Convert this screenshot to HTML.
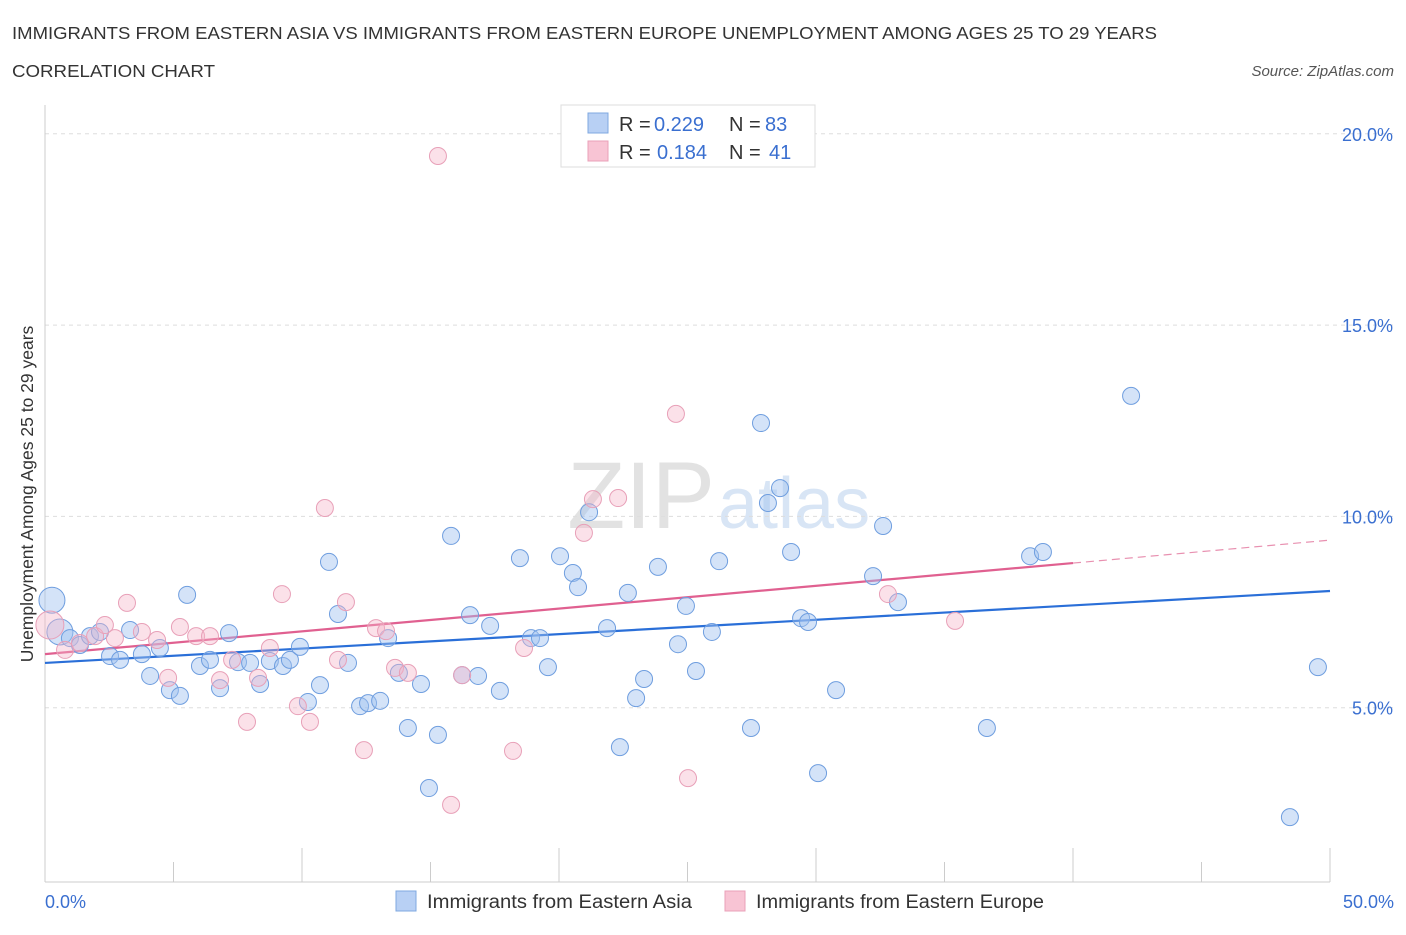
<!DOCTYPE html>
<html><head><meta charset="utf-8"><style>
body{margin:0;background:#fff;font-family:"Liberation Sans",sans-serif;}
svg text{font-family:"Liberation Sans",sans-serif;}
</style></head><body>
<svg id="chart" width="1406" height="930" xmlns="http://www.w3.org/2000/svg">
<text x="12" y="39" font-size="17.5" fill="#333" textLength="1145" lengthAdjust="spacingAndGlyphs">IMMIGRANTS FROM EASTERN ASIA VS IMMIGRANTS FROM EASTERN EUROPE UNEMPLOYMENT AMONG AGES 25 TO 29 YEARS</text>
<text x="12" y="77" font-size="17.5" fill="#333" textLength="203" lengthAdjust="spacingAndGlyphs">CORRELATION CHART</text>
<text x="1394" y="76" font-size="15" fill="#555" font-style="italic" text-anchor="end">Source: ZipAtlas.com</text>
<text x="715" y="528" font-size="95" fill="#e2e2e2" font-family="Liberation Serif" text-anchor="end">ZIP</text>
<text x="718" y="528" font-size="72" fill="#d8e5f5">atlas</text>
<g id="grid"></g>
<g id="axes"></g>
<g id="trend"></g>
<g id="points"></g>
<text transform="translate(33,494) rotate(-90)" font-size="17.5" fill="#333" text-anchor="middle">Unemployment Among Ages 25 to 29 years</text>
<g>
<rect x="561" y="105" width="254" height="62" fill="#fff" stroke="#ddd"/>
<rect x="588" y="113" width="20" height="20" fill="#b8d0f4" stroke="#7fa8e0"/>
<rect x="588" y="141" width="20" height="20" fill="#f8c4d4" stroke="#eaa0b8"/>
<text x="619" y="131" font-size="20" fill="#333">R =</text>
<text x="654" y="131" font-size="20" fill="#3a6fd0">0.229</text>
<text x="729" y="131" font-size="20" fill="#333">N =</text>
<text x="765" y="131" font-size="20" fill="#3a6fd0">83</text>
<text x="619" y="159" font-size="20" fill="#333">R =</text>
<text x="657" y="159" font-size="20" fill="#3a6fd0">0.184</text>
<text x="729" y="159" font-size="20" fill="#333">N =</text>
<text x="769" y="159" font-size="20" fill="#3a6fd0">41</text>
</g>
<g>
<rect x="396" y="891" width="20" height="20" fill="#b8d0f4" stroke="#7fa8e0"/>
<text x="427" y="908" font-size="19" fill="#333" textLength="265" lengthAdjust="spacingAndGlyphs">Immigrants from Eastern Asia</text>
<rect x="725" y="891" width="20" height="20" fill="#f8c4d4" stroke="#eaa0b8"/>
<text x="756" y="908" font-size="19" fill="#333" textLength="288" lengthAdjust="spacingAndGlyphs">Immigrants from Eastern Europe</text>
</g>
</svg>
<script>
const blueX=[0.27,0.58,0.97,1.36,1.75,2.14,2.53,2.92,3.31,3.77,4.09,4.47,4.86,5.25,5.53,6.03,6.42,7.16,6.81,7.51,7.98,8.37,8.75,9.26,9.53,9.92,10.23,10.70,11.05,11.40,11.79,12.26,12.57,13.04,13.35,13.77,14.12,14.63,14.94,15.29,15.80,16.23,16.54,16.85,17.32,17.70,18.48,18.91,19.26,19.57,20.04,20.54,20.74,21.17,21.87,22.37,22.68,23.00,23.31,23.85,24.63,24.94,25.33,25.95,26.23,27.47,27.86,28.13,28.60,29.03,29.42,29.69,30.08,30.78,32.22,32.61,33.19,36.65,38.33,38.83,42.26,48.44,49.53];
const blueY=[7.81,6.98,6.82,6.64,6.87,6.98,6.35,6.25,7.03,6.40,5.83,6.56,5.46,5.31,7.95,6.09,6.25,6.95,5.51,6.19,6.17,5.62,6.22,6.09,6.25,6.59,5.15,5.59,8.81,7.45,6.17,5.04,5.12,5.18,6.82,5.91,4.47,5.62,2.90,4.29,9.49,5.85,7.42,5.83,7.14,5.44,8.91,6.82,6.82,6.06,8.96,8.52,8.15,10.11,7.08,3.97,8.00,5.25,5.75,8.68,6.66,7.66,5.96,6.98,8.83,4.47,12.44,10.35,10.74,9.07,7.34,7.24,3.29,5.46,8.44,9.75,7.76,4.47,8.96,9.07,13.15,2.14,6.06];
const pinkX=[0.19,0.78,1.36,1.95,2.33,2.72,3.19,3.77,4.36,4.79,5.25,5.88,6.42,6.81,7.28,7.86,8.29,8.75,9.22,9.84,10.31,10.89,11.40,11.71,12.41,12.88,13.27,13.62,14.12,15.29,15.80,16.23,18.21,18.64,20.97,21.32,22.30,24.55,25.02,32.80,35.41];
const pinkY=[7.16,6.51,6.69,6.87,7.16,6.82,7.74,6.98,6.77,5.78,7.11,6.87,6.87,5.72,6.25,4.63,5.78,6.56,7.97,5.04,4.63,10.22,6.25,7.76,3.89,7.08,7.00,6.04,5.91,19.42,2.46,5.85,3.87,6.56,9.57,10.45,10.48,12.68,3.16,7.97,7.27];
const blueTrend=[6.17,8.05];
const pinkTrend=[6.40,8.78,9.38];
const yTicks=[5,10,15,20];
const xTickLabels=["0.0%","50.0%"];
const NS="http://www.w3.org/2000/svg";
const sx=v=>45+v*25.7, sy=v=>899-v*38.26;
function mk(parent,tag,attrs){const e=document.createElementNS(NS,tag);for(const k in attrs)e.setAttribute(k,attrs[k]);document.getElementById(parent).appendChild(e);return e;}
yTicks.forEach(t=>{
 const l=mk('grid','line',{x1:45,x2:1395,y1:sy(t),y2:sy(t),stroke:'#ddd','stroke-dasharray':'4,4'});
 
 
 const tx=mk('grid','text',{x:1393,y:sy(t)+7,'font-size':18,fill:'#3a6fd0','text-anchor':'end'});tx.textContent=t.toFixed(1)+'%';
 
 
});
const ax=mk('axes','line',{x1:45,x2:45,y1:105,y2:882,stroke:'#ccc'});


const bx=mk('axes','line',{x1:45,x2:1330,y1:882,y2:882,stroke:'#ccc'});


for(let i=0;i<=10;i++){const t=mk('axes','line',{x1:sx(i*5),x2:sx(i*5),y1:882,y2:i%2==0?848:862,stroke:'#ccc'});
 
 }
[[0,'start',45],[50,'end',1394]].forEach((d,i)=>{const t=mk('axes','text',{x:d[2],y:908,'font-size':18,fill:'#3a6fd0','text-anchor':d[1]});t.textContent=xTickLabels[i];
 
 });
const bt=mk('trend','line',{x1:sx(0),y1:sy(blueTrend[0]),x2:sx(50),y2:sy(blueTrend[1]),stroke:'#2a6fd8','stroke-width':2.2});


const pt=mk('trend','line',{x1:sx(0),y1:sy(pinkTrend[0]),x2:sx(40),y2:sy(pinkTrend[1]),stroke:'#e06090','stroke-width':2.2});


const pd=mk('trend','line',{x1:sx(40),y1:sy(pinkTrend[1]),x2:sx(50),y2:sy(pinkTrend[2]),stroke:'#e890b0','stroke-width':1.2,'stroke-dasharray':'8,5'});


blueX.forEach((x,i)=>{const c=mk('points','circle',{cx:sx(x),cy:sy(blueY[i]),r:i<2?13:8.5,fill:'rgba(160,192,240,0.45)',stroke:'#6f9edf','stroke-width':1});
 
 });
pinkX.forEach((x,i)=>{const c=mk('points','circle',{cx:sx(x),cy:sy(pinkY[i]),r:i<1?14:8.5,fill:'rgba(245,180,200,0.4)',stroke:'#e8a0b8','stroke-width':1});
 
 });
</script>
</body></html>
